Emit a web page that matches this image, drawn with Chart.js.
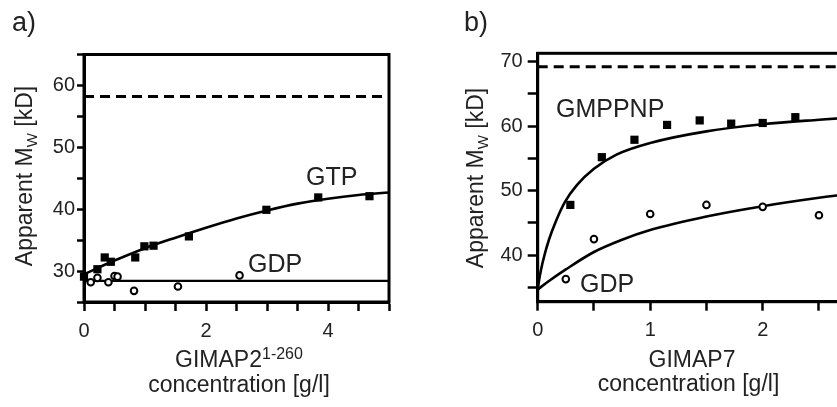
<!DOCTYPE html>
<html>
<head>
<meta charset="utf-8">
<script src="https://cdn.jsdelivr.net/npm/chart.js@4.4.1/dist/chart.umd.min.js"></script>
<style>
  html, body { margin:0; padding:0; background:#fff; overflow:hidden; }
  #wrap { position:relative; width:837px; height:407px; overflow:hidden; background:#fff; }
  #ca { position:absolute; left:0; top:0; }
  #cb { position:absolute; left:420px; top:0; }
</style>
</head>
<body>
<div id="wrap">
  <canvas id="ca" width="420" height="407"></canvas>
  <canvas id="cb" width="480" height="407"></canvas>
</div>
<script>
// ---------- Panel a data (GIMAP2 1-260) ----------
const aGTPx = [0, 0.22, 0.34, 0.44, 0.84, 0.99, 1.14, 1.72, 2.99, 3.84, 4.68];
const aGTPy = [29.1, 30.3, 32.2, 31.5, 32.2, 34.0, 34.1, 35.6, 39.9, 41.9, 42.1];
const aGDPx = [0.11, 0.22, 0.40, 0.50, 0.55, 0.82, 1.54, 2.55];
const aGDPy = [28.2, 28.9, 28.2, 29.2, 29.1, 26.8, 27.5, 29.3];
const aGTPfitX = [0, 0.5, 1, 1.5, 2, 2.5, 3, 3.5, 4, 4.5, 5];
const aGTPfitY = [29.5, 31.7, 33.7, 35.4, 37.0, 38.5, 39.8, 40.9, 41.7, 42.3, 42.7];
const aGDPfitX = [0, 5];
const aGDPfitY = [28.4, 28.4];
const aDimerX = [0, 5];
const aDimerY = [58.2, 58.2];
const aXTicks = [0, 0.5, 1, 1.5, 2, 2.5, 3, 3.5, 4, 4.5, 5];
const aXLabels = [0, 2, 4];
const aYTicks = [25, 30, 35, 40, 45, 50, 55, 60, 65];
const aYLabels = [30, 40, 50, 60];

// ---------- Panel b data (GIMAP7) ----------
const bGMPx = [0.29, 0.57, 0.86, 1.15, 1.44, 1.72, 2.0, 2.29];
const bGMPy = [47.8, 55.2, 57.9, 60.2, 60.9, 60.4, 60.5, 61.4];
const bGDPx = [0.25, 0.5, 1.0, 1.5, 2.0, 2.5];
const bGDPy = [36.3, 42.5, 46.4, 47.8, 47.5, 46.2];
const bGMPfitX = [0, 0.01, 0.03, 0.06, 0.1, 0.16, 0.24, 0.35, 0.5, 0.7, 1.0, 1.5, 2.0, 2.5, 3.0];
const bGMPfitY = [34.6, 35.9, 37.8, 40.0, 42.4, 45.2, 48.2, 50.9, 53.4, 55.6, 57.4, 59.2, 60.3, 61.0, 61.6];
const bGDPfitX = [0, 0.1, 0.25, 0.5, 0.75, 1, 1.5, 2, 2.5, 3];
const bGDPfitY = [34.7, 36.0, 37.8, 40.5, 42.4, 43.9, 46.0, 47.6, 48.9, 50.0];
const bDimerX = [0, 3];
const bDimerY = [69.2, 69.2];
const bXTicks = [0, 0.5, 1, 1.5, 2, 2.5, 3];
const bXLabels = [0, 1, 2, 3];
const bYTicks = [35, 40, 45, 50, 55, 60, 65, 70];
const bYLabels = [40, 50, 60, 70];

const FONT = "'Liberation Sans', Arial, Helvetica, sans-serif";
const TXT = '#222';

function pts(xs, ys) { return xs.map((x, i) => ({x: x, y: ys[i]})); }

function lineDS(xs, ys, w, dash) {
  return { type:'line', data: pts(xs, ys), borderColor:'#000', borderWidth:w,
    borderDash: dash || [], pointRadius:0, fill:false, tension:0.4,
    cubicInterpolationMode:'monotone', clip:false, order:2 };
}
function squareDS(xs, ys) {
  return { type:'scatter', data: pts(xs, ys), pointStyle:'rect', pointRadius:5.8,
    backgroundColor:'#000', borderColor:'#000', borderWidth:0, clip:false, order:1 };
}
function circleDS(xs, ys) {
  return { type:'scatter', data: pts(xs, ys), pointStyle:'circle', pointRadius:3.3,
    backgroundColor:'#fff', borderColor:'#000', borderWidth:2, clip:false, order:1 };
}

const framePlugin = {
  id:'frame',
  afterDatasetsDraw(chart) {
    const a = chart.chartArea, ctx = chart.ctx;
    ctx.save();
    ctx.strokeStyle = '#000';
    ctx.lineWidth = 3;
    ctx.strokeRect(a.left, a.top, a.right - a.left, a.bottom - a.top);
    ctx.restore();
  }
};

function textPlugin(items) {
  return {
    id:'texts',
    afterDraw(chart) {
      const ctx = chart.ctx;
      ctx.save();
      ctx.fillStyle = TXT;
      ctx.textBaseline = 'alphabetic';
      items.forEach(it => it(ctx));
      ctx.restore();
    }
  };
}

function drawRuns(ctx, runs, x, y, align) {
  let total = 0;
  runs.forEach(r => { ctx.font = r.size + 'px ' + FONT; total += ctx.measureText(r.t).width; });
  let cx = align === 'center' ? x - total / 2 : x;
  ctx.textAlign = 'left';
  runs.forEach(r => {
    ctx.font = r.size + 'px ' + FONT;
    ctx.fillText(r.t, cx, y + (r.dy || 0));
    cx += ctx.measureText(r.t).width;
  });
}

function makeOptions(cfg) {
  return {
    responsive:false, animation:false, devicePixelRatio:1,
    layout:{ padding:{ left:0, right:cfg.padRight, top:cfg.padTop, bottom:0 } },
    plugins:{ legend:{display:false}, tooltip:{enabled:false} },
    scales:{
      x:{ type:'linear', position:'bottom', min:cfg.xmin, max:cfg.xmax,
        afterBuildTicks: s => { s.ticks = cfg.xTicks.map(v => ({value:v})); },
        afterFit: s => { s.height = cfg.xH; },
        grid:{ display:true, drawOnChartArea:false, drawTicks:true, tickLength:cfg.xTickLen, tickWidth:2.5, tickColor:'#000' },
        border:{ display:true, width:3, color:'#000' },
        ticks:{ autoSkip:false, maxRotation:0, padding:cfg.xPad, color:TXT,
          font:{ family:FONT, size:20 },
          callback: v => cfg.xLabels.includes(v) ? String(v) : '' }
      },
      y:{ type:'linear', position:'left', min:cfg.ymin, max:cfg.ymax,
        afterBuildTicks: s => { s.ticks = cfg.yTicks.map(v => ({value:v})); },
        afterFit: s => { s.width = cfg.yW; },
        grid:{ display:true, drawOnChartArea:false, drawTicks:true, tickLength:cfg.yTickLen, tickWidth:2.5, tickColor:'#000' },
        border:{ display:true, width:3, color:'#000' },
        ticks:{ autoSkip:false, padding:cfg.yPad, color:TXT,
          font:{ family:FONT, size:20 },
          callback: v => cfg.yLabels.includes(v) ? String(v) : '' }
      }
    }
  };
}

function yTitle(cx, cy) {
  return ctx => {
    ctx.save();
    ctx.translate(cx, cy);
    ctx.rotate(-Math.PI / 2);
    drawRuns(ctx, [
      {t:'Apparent M', size:23},
      {t:'W', size:15, dy:5},
      {t:' [kD]', size:23}
    ], 0, 0, 'center');
    ctx.restore();
  };
}
function plain(t, x, y, size, align) {
  return ctx => { ctx.font = size + 'px ' + FONT; ctx.textAlign = align || 'left'; ctx.fillText(t, x, y); };
}

// ---------- Chart a ----------
new Chart(document.getElementById('ca'), {
  data:{ datasets:[
    lineDS(aDimerX, aDimerY, 3, [10, 6]),
    lineDS(aGTPfitX, aGTPfitY, 2.6),
    lineDS(aGDPfitX, aGDPfitY, 2.2),
    squareDS(aGTPx, aGTPy),
    circleDS(aGDPx, aGDPy)
  ]},
  options: makeOptions({ padRight:31, padTop:54.5, xmin:0, xmax:5, ymin:25, ymax:65,
    xTicks:aXTicks, xLabels:aXLabels, yTicks:aYTicks, yLabels:aYLabels,
    xH:105, yW:84, xTickLen:9, yTickLen:7, xPad:8, yPad:2 }),
  plugins:[framePlugin, textPlugin([
    plain('a)', 12, 31, 27),
    plain('GTP', 306, 185, 25),
    plain('GDP', 248, 271.5, 25),
    yTitle(31.5, 176),
    ctx => drawRuns(ctx, [{t:'GIMAP2', size:23}, {t:'1-260', size:16, dy:-8}], 239, 366.5, 'center'),
    plain('concentration [g/l]', 239, 391.5, 23, 'center')
  ])]
});

// ---------- Chart b ----------
new Chart(document.getElementById('cb'), {
  data:{ datasets:[
    lineDS(bDimerX, bDimerY, 3, [10, 6]),
    lineDS(bGMPfitX, bGMPfitY, 2.6),
    lineDS(bGDPfitX, bGDPfitY, 2.6),
    squareDS(bGMPx, bGMPy),
    circleDS(bGDPx, bGDPy)
  ]},
  options: makeOptions({ padRight:24.8, padTop:53.3, xmin:0, xmax:3, ymin:32.8, ymax:71.3,
    xTicks:bXTicks, xLabels:bXLabels, yTicks:bYTicks, yLabels:bYLabels,
    xH:105.3, yW:117.7, xTickLen:9, yTickLen:10, xPad:8, yPad:5 }),
  plugins:[framePlugin, textPlugin([
    plain('b)', 44, 31, 27),
    plain('GMPPNP', 136, 116.5, 25),
    plain('GDP', 160, 291.5, 25),
    yTitle(62.5, 178),
    plain('GIMAP7', 272, 366.5, 23, 'center'),
    plain('concentration [g/l]', 268.5, 390.5, 23, 'center')
  ])]
});
</script>
</body>
</html>
